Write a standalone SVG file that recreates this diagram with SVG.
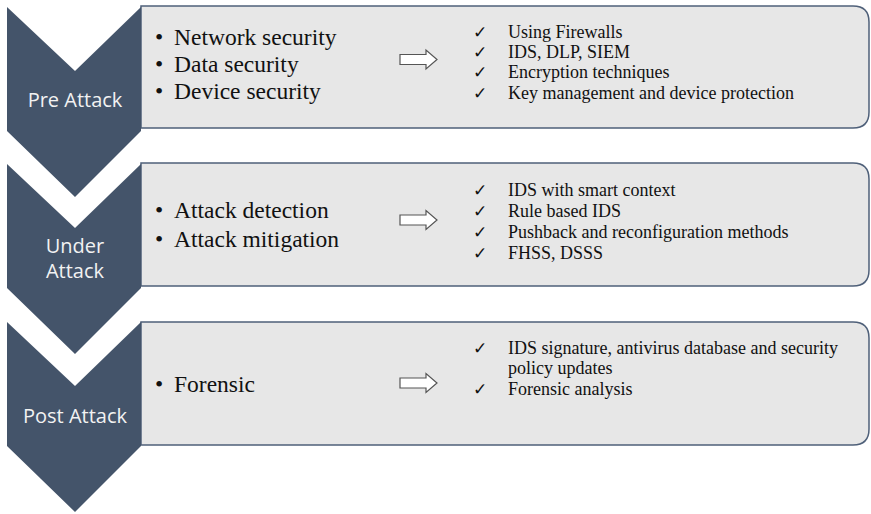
<svg xmlns="http://www.w3.org/2000/svg" width="871" height="514" viewBox="0 0 871 514">
<defs>
<style>
.chev{fill:#44546a;}
.box{fill:#e7e7e7;stroke:#4f6079;stroke-width:1.5;}
.stage{font-family:"Open Sans","Liberation Sans",sans-serif;font-size:20px;fill:#f2f2f2;text-anchor:middle;}
.main{font-family:"Liberation Serif","Times New Roman",serif;font-size:23.5px;fill:#111;}
.item{font-family:"Liberation Serif","Times New Roman",serif;font-size:18px;fill:#111;}
.chk{font-family:"DejaVu Sans",sans-serif;font-size:17px;font-weight:bold;fill:#111;}
.arr{fill:#ffffff;stroke:#555;stroke-width:1.2;}
</style>
<path id="arrowShape" d="M0,-5 L26,-5 L26,-9.5 L37,0 L26,9.5 L26,5 L0,5 Z"/>
</defs>
<rect width="871" height="514" fill="#ffffff"/>

<g id="pre-attack">
<path class="box" d="M141,6 H853 Q869,6 869,22 V112 Q869,128 853,128 H141 Z"/>
<path class="chev" d="M7,7 L75,71 L141,7 L141,131 L75,197 L7,131 Z"/>
<text class="stage" x="75" y="107">Pre Attack</text>
<text class="main" x="155" y="45">•</text><text class="main" x="174" y="45">Network security</text>
<text class="main" x="155" y="72">•</text><text class="main" x="174" y="72">Data security</text>
<text class="main" x="155" y="99">•</text><text class="main" x="174" y="99">Device security</text>
<use href="#arrowShape" class="arr" x="400" y="59.5"/>
<text class="chk" x="473" y="38">✓</text><text class="item" x="508" y="38">Using Firewalls</text>
<text class="chk" x="473" y="58">✓</text><text class="item" x="508" y="58">IDS, DLP, SIEM</text>
<text class="chk" x="473" y="78">✓</text><text class="item" x="508" y="78">Encryption techniques</text>
<text class="chk" x="473" y="99">✓</text><text class="item" x="508" y="99">Key management and device protection</text>
</g>

<g id="under-attack">
<path class="box" d="M141,163 H853 Q869,163 869,179 V270 Q869,286 853,286 H141 Z"/>
<path class="chev" d="M7,164 L75,228 L141,164 L141,288 L75,354 L7,288 Z"/>
<text class="stage" x="75" y="253">Under</text>
<text class="stage" x="75" y="278">Attack</text>
<text class="main" x="155" y="218">•</text><text class="main" x="174" y="218">Attack detection</text>
<text class="main" x="155" y="247">•</text><text class="main" x="174" y="247">Attack mitigation</text>
<use href="#arrowShape" class="arr" x="400" y="220"/>
<text class="chk" x="473" y="196">✓</text><text class="item" x="508" y="196">IDS with smart context</text>
<text class="chk" x="473" y="217">✓</text><text class="item" x="508" y="217">Rule based IDS</text>
<text class="chk" x="473" y="238">✓</text><text class="item" x="508" y="238">Pushback and reconfiguration methods</text>
<text class="chk" x="473" y="259">✓</text><text class="item" x="508" y="259">FHSS, DSSS</text>
</g>

<g id="post-attack">
<path class="box" d="M141,322 H853 Q869,322 869,338 V429 Q869,445 853,445 H141 Z"/>
<path class="chev" d="M7,322 L75,386 L141,322 L141,446 L75,512 L7,446 Z"/>
<text class="stage" x="75" y="423">Post Attack</text>
<text class="main" x="155" y="392">•</text><text class="main" x="174" y="392">Forensic</text>
<use href="#arrowShape" class="arr" x="400" y="383"/>
<text class="chk" x="473" y="354">✓</text><text class="item" x="508" y="354">IDS signature, antivirus database and security</text>
<text class="item" x="508" y="374">policy updates</text>
<text class="chk" x="473" y="395">✓</text><text class="item" x="508" y="395">Forensic analysis</text>
</g>

<g id="connectors"></g>
</svg>
